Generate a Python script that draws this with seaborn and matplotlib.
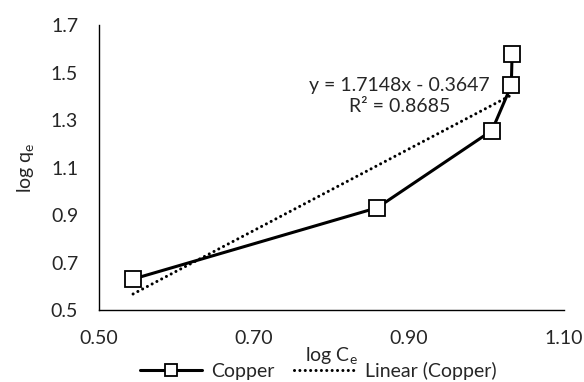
import matplotlib
matplotlib.use("Agg")
import matplotlib.pyplot as plt
import seaborn as sns
import pandas as pd
import numpy as np
from matplotlib.lines import Line2D

log_ce = [0.544, 0.859, 1.007, 1.032, 1.033]
log_qe = [0.631, 0.931, 1.256, 1.446, 1.580]
slope = 1.7148
intercept = -0.3647
r2 = 0.8685
x_ticks = [0.50, 0.70, 0.90, 1.10]
y_ticks = [0.5, 0.7, 0.9, 1.1, 1.3, 1.5, 1.7]

sns.set_theme(style="white")
plt.rcParams['font.family'] = ['Lato', 'DejaVu Sans']
FS = 14

fig = plt.figure(figsize=(5.84, 3.82), dpi=100)
ax = fig.add_axes([0.1695, 0.188, 0.7963, 0.7466])

df = pd.DataFrame({"x": log_ce, "y": log_qe})
tx = np.array([min(log_ce), max(log_ce)])
tdf = pd.DataFrame({"x": tx, "y": slope * tx + intercept})

sns.lineplot(data=tdf, x="x", y="y", ax=ax, color="black", lw=2.2,
             linestyle=(0, (0.01, 1.75)), dash_capstyle="round", sort=False)
sns.lineplot(data=df, x="x", y="y", ax=ax, color="black", lw=2.2, sort=False,
             marker="s", markersize=11, markerfacecolor="white",
             markeredgecolor="black", markeredgewidth=1.3)

ax.set_xlim(0.50, 1.10)
ax.set_ylim(0.5, 1.7)
ax.set_xticks(x_ticks)
ax.set_xticklabels([f"{v:.2f}" for v in x_ticks], fontsize=FS)
ax.set_yticks(y_ticks)
ax.set_yticklabels([f"{v:.1f}" for v in y_ticks], fontsize=FS)
ax.tick_params(axis="x", length=0, pad=14)
ax.tick_params(axis="y", length=0, pad=15)
for s in ["top", "right"]:
    ax.spines[s].set_visible(False)
for s in ["left", "bottom"]:
    ax.spines[s].set_color("black")
    ax.spines[s].set_linewidth(1.0)

ax.set_xlabel("log C$_\\mathregular{e}$", fontsize=FS, labelpad=-1)
ax.set_ylabel("log q$_\\mathregular{e}$", fontsize=FS, labelpad=10)

ax.text(0.888, 1.40, f"y = {slope}x - {abs(intercept)}\nR² = {r2}",
        ha="center", va="center", fontsize=FS, linespacing=1.3)

handles = [
    Line2D([], [], color="black", lw=2.2, marker="s", markersize=9,
           markerfacecolor="white", markeredgecolor="black", markeredgewidth=1.3),
    Line2D([], [], color="black", lw=2.2, linestyle=(0, (0.01, 1.75)),
           dash_capstyle="round"),
]
fig.legend(handles, ["Copper", "Linear (Copper)"], loc="center",
           bbox_to_anchor=(0.545, 0.03), ncol=2, frameon=False, fontsize=FS,
           handlelength=3.2, columnspacing=1.0, handletextpad=0.45,
           borderpad=0)

fig.savefig("out.png", dpi=100)
